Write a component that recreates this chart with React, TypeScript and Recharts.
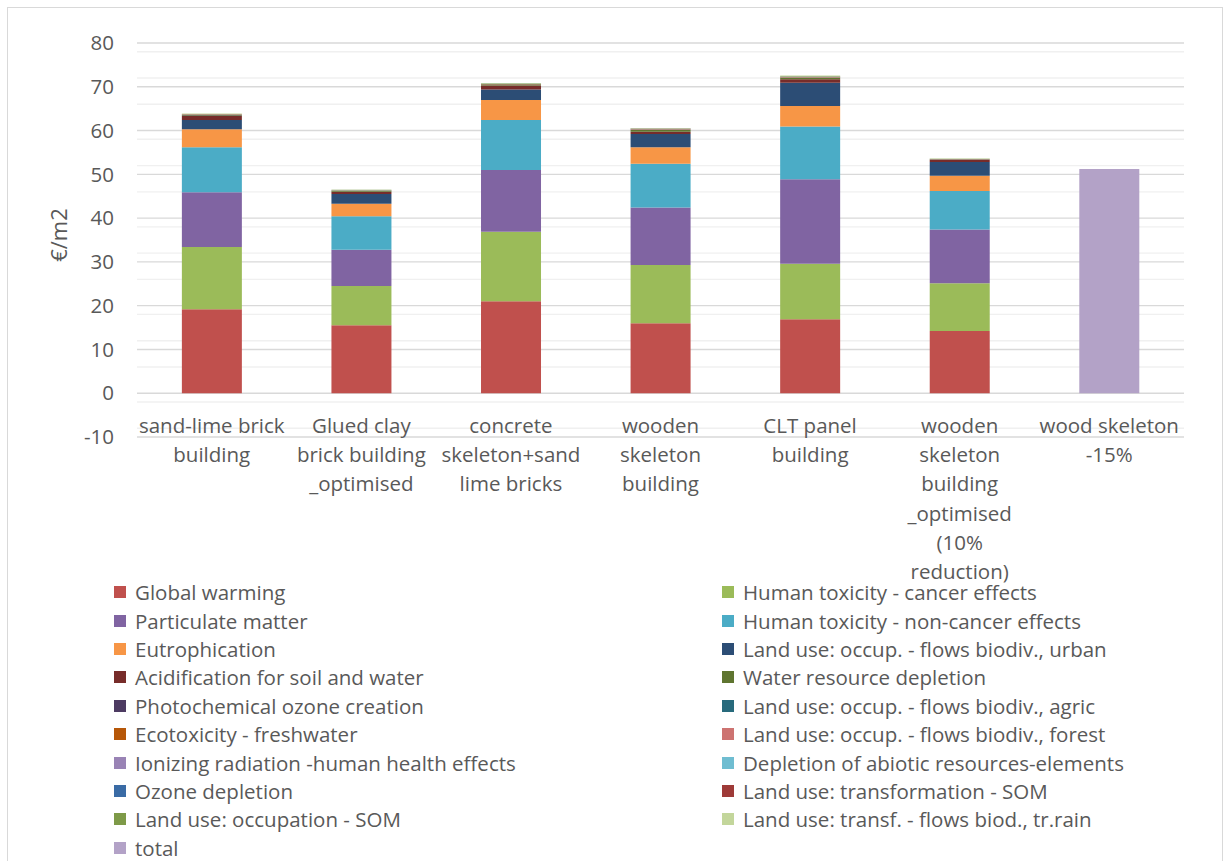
import { BarChart, Bar, XAxis, YAxis, CartesianGrid, Legend } from "recharts";

const FONT = "'Open Sans', sans-serif";
const TEXT = "#595959";

// building variants along the x axis (line breaks as wrapped under the bars)
const categories = [
  "sand-lime brick\nbuilding",
  "Glued clay\nbrick building\n_optimised",
  "concrete\nskeleton+sand\nlime bricks",
  "wooden\nskeleton\nbuilding",
  "CLT panel\nbuilding",
  "wooden\nskeleton\nbuilding\n_optimised\n(10%\nreduction)",
  "wood skeleton\n-15%",
];

// external costs per impact category, €/m2
const globalWarming = [19.2, 15.5, 21.0, 16.0, 16.9, 14.2, 0];
const humanToxCancer = [14.2, 9.0, 15.9, 13.3, 12.7, 10.9, 0];
const particulateMatter = [12.5, 8.3, 14.1, 13.1, 19.3, 12.3, 0];
const humanToxNonCancer = [10.3, 7.6, 11.4, 10.0, 12.0, 8.8, 0];
const eutrophication = [4.1, 2.9, 4.6, 3.8, 4.7, 3.5, 0];
const landUseUrban = [2.1, 2.2, 2.4, 3.0, 5.3, 3.1, 0];
const acidification = [0.9, 0.5, 0.9, 0.5, 0.8, 0.5, 0];
const waterDepletion = [0.2, 0.2, 0.2, 0.4, 0.3, 0.1, 0];
const photochemical = [0.05, 0.04, 0.05, 0.08, 0.08, 0.03, 0];
const landUseAgric = [0.02, 0.02, 0.02, 0.05, 0.05, 0.01, 0];
const ecotoxicity = [0.04, 0.03, 0.04, 0.06, 0.06, 0.02, 0];
const landUseForest = [0.02, 0.02, 0.02, 0.06, 0.08, 0.02, 0];
const ionizing = [0.02, 0.02, 0.02, 0.03, 0.03, 0.01, 0];
const abioticDepletion = [0.02, 0.01, 0.02, 0.02, 0.02, 0.01, 0];
const ozoneDepletion = [0.01, 0.01, 0.01, 0.01, 0.01, 0.01, 0];
const landUseTransfSom = [0.03, 0.02, 0.03, 0.04, 0.04, 0.02, 0];
const landUseOccSom = [0.1, 0.08, 0.1, 0.1, 0.12, 0.05, 0];
const landUseTransfRain = [0.06, 0.05, 0.06, 0.05, 0.11, 0.03, 0];
const total = [0, 0, 0, 0, 0, 0, 51.2];

const yTicks = [-10, 0, 10, 20, 30, 40, 50, 60, 70, 80];
const yMinor = [-8, -6, -4, -2, 2, 4, 6, 8, 12, 14, 16, 18, 22, 24, 26, 28, 32, 34, 36, 38, 42, 44, 46, 48, 52, 54, 56, 58, 62, 64, 66, 68, 72, 74, 76, 78];

const series = [
  { key: "Global warming", color: "#C0504D", values: globalWarming },
  { key: "Human toxicity - cancer effects", color: "#9BBB59", values: humanToxCancer },
  { key: "Particulate matter", color: "#8064A2", values: particulateMatter },
  { key: "Human toxicity - non-cancer effects", color: "#4BACC6", values: humanToxNonCancer },
  { key: "Eutrophication", color: "#F79646", values: eutrophication },
  { key: "Land use: occup. - flows biodiv., urban", color: "#2C4D75", values: landUseUrban },
  { key: "Acidification for soil and water", color: "#772C2A", values: acidification },
  { key: "Water resource depletion", color: "#5F7530", values: waterDepletion },
  { key: "Photochemical ozone creation", color: "#4D3B62", values: photochemical },
  { key: "Land use: occup. - flows biodiv., agric", color: "#276A7C", values: landUseAgric },
  { key: "Ecotoxicity - freshwater", color: "#B65708", values: ecotoxicity },
  { key: "Land use: occup. - flows biodiv., forest", color: "#CD7371", values: landUseForest },
  { key: "Ionizing radiation -human health effects", color: "#9983B5", values: ionizing },
  { key: "Depletion of abiotic resources-elements", color: "#6FBDD1", values: abioticDepletion },
  { key: "Ozone depletion", color: "#3A6BA5", values: ozoneDepletion },
  { key: "Land use: transformation - SOM", color: "#9E3A38", values: landUseTransfSom },
  { key: "Land use: occupation - SOM", color: "#7E9A48", values: landUseOccSom },
  { key: "Land use: transf. - flows biod., tr.rain", color: "#C3D69B", values: landUseTransfRain },
  { key: "total", color: "#B3A2C7", values: total },
];

const data = categories.map((name, i) => {
  const row: Record<string, string | number> = { name };
  series.forEach((s) => {
    row[s.key] = s.values[i];
  });
  return row;
});

function CategoryTick({ x, y, payload }: any) {
  const lines = String(payload.value).split("\n");
  return (
    <g>
      {lines.map((line, i) => (
        <text
          key={i}
          x={x}
          y={y - 12 + i * 29.2}
          textAnchor="middle"
          dominantBaseline="central"
          fill={TEXT}
          fontSize={20.5}
          fontFamily={FONT}
        >
          {line}
        </text>
      ))}
    </g>
  );
}

function AxisTitle({ viewBox }: any) {
  const cx = viewBox.x + 50;
  const cy = viewBox.y + viewBox.height / 2 - 5;
  return (
    <text
      x={cx}
      y={cy}
      transform={`rotate(-90, ${cx}, ${cy})`}
      textAnchor="middle"
      dominantBaseline="central"
      fill={TEXT}
      fontSize={22}
      fontFamily={FONT}
    >
      €/m2
    </text>
  );
}

function LegendGrid() {
  return (
    <div
      style={{
        display: "grid",
        gridTemplateColumns: "608px 480px",
        fontFamily: FONT,
        fontSize: 20.5,
        color: TEXT,
      }}
    >
      {series.map((s) => (
        <div
          key={s.key}
          style={{ height: 28.4, display: "flex", alignItems: "center", whiteSpace: "nowrap" }}
        >
          <span style={{ width: 12, height: 12, background: s.color, marginRight: 9, flexShrink: 0 }} />
          {s.key}
        </div>
      ))}
    </div>
  );
}

export default function App() {
  return (
    <div
      style={{
        position: "absolute",
        left: 7,
        top: 7,
        width: 1214,
        height: 880,
        border: "1px solid #D9D9D9",
        background: "#fff",
        fontFamily: FONT,
      }}
    >
      <BarChart
        width={1214}
        height={860}
        data={data}
        barCategoryGap="30%"
        margin={{ top: 35, right: 38, left: 0, bottom: 401 }}
      >
        <CartesianGrid horizontalValues={yMinor} vertical={false} stroke="#F0F0F0" strokeWidth={1.4} />
        <CartesianGrid horizontalValues={yTicks} vertical={false} stroke="#D9D9D9" strokeWidth={1.4} />
        <XAxis
          dataKey="name"
          height={30}
          interval={0}
          tickSize={0}
          tickMargin={0}
          tickLine={false}
          axisLine={false}
          tick={(props: any) => <CategoryTick {...props} />}
        />
        <YAxis
          type="number"
          domain={[-10, 80]}
          ticks={yTicks}
          width={129}
          tickSize={0}
          tickMargin={23}
          tickLine={false}
          axisLine={false}
          tick={{ fill: TEXT, fontSize: 20.5, fontFamily: FONT }}
          label={{ content: (props: any) => <AxisTitle {...props} /> }}
        />
        {series.map((s) => (
          <Bar key={s.key} dataKey={s.key} stackId="cost" fill={s.color} isAnimationActive={false} />
        ))}
        <Legend
          layout="vertical"
          align="center"
          verticalAlign="middle"
          wrapperStyle={{ top: 570, left: 106, width: 1100 }}
          content={() => <LegendGrid />}
        />
      </BarChart>
    </div>
  );
}
